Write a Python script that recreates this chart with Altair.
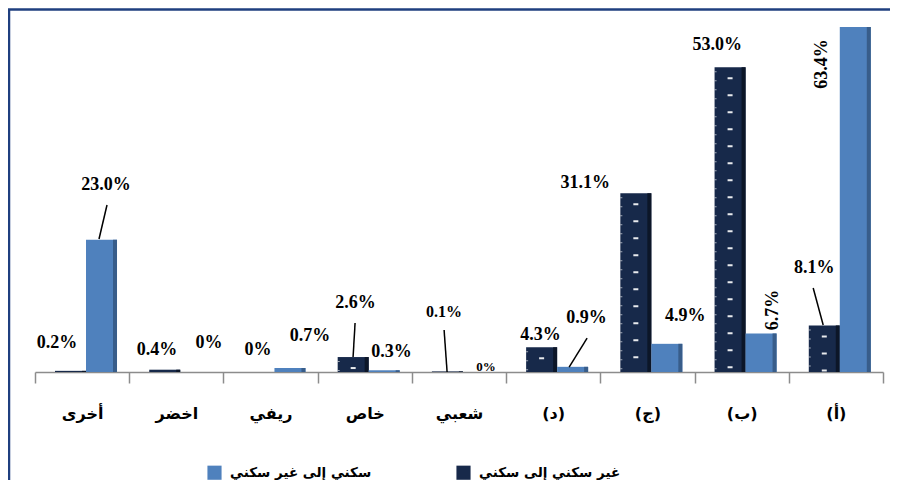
import altair as alt
import pandas as pd

# ---------------- data ----------------
categories = ["(أ)", "(ب)", "(ج)", "(د)", "شعبي", "خاص", "ريفي", "اخضر", "أخرى"]
series_dark = "غير سكني إلى سكني"
series_light = "سكني إلى غير سكني"
dark_values = [8.1, 53.0, 31.1, 4.3, 0.1, 2.6, 0.0, 0.4, 0.2]
light_values = [63.4, 6.7, 4.9, 0.9, 0.0, 0.3, 0.7, 0.0, 23.0]


def fmt(v):
    return "0%" if v == 0 else f"{v:.1f}%"


rows = []
for c, d, l in zip(categories, dark_values, light_values):
    rows.append({"cat": c, "series": series_dark, "value": d, "label": fmt(d)})
    rows.append({"cat": c, "series": series_light, "value": l, "label": fmt(l)})
df = pd.DataFrame(rows)

# ---------------- styles / layout ----------------
C_LIGHT, C_LIGHT_SHADE = "#4f81bd", "#385d8a"
C_DARK, C_DARK_SHADE = "#17294a", "#0c1628"
FRAME = "#1f3f7f"
AXIS_GREY = "#8c8c8c"
AR_FONT = "DejaVu Sans"
NUM_FONT = "Liberation Serif"
BAR_W = 31
OFF = {series_dark: -11.6, series_light: 19.4}   # bar centre relative to band centre
order_lr = categories[::-1]

# label offsets (dx, dy, angle, size) relative to band centre / bar top
LABEL_POS = {
    ("(أ)", series_dark): (-21.7, -57.4, 0, 18),
    ("(أ)", series_light): (-13.7, 56.6, 270, 18),
    ("(ب)", series_dark): (-24.5, -22.3, 0, 18),
    ("(ب)", series_light): (31, -23.5, 270, 18),
    ("(ج)", series_dark): (-62.3, -10.2, 0, 18),
    ("(ج)", series_light): (37.7, -27.8, 0, 18),
    ("(د)", series_dark): (-12.6, -12.3, 0, 18),
    ("(د)", series_light): (33.4, -48.8, 0, 18),
    ("شعبي", series_dark): (-14.9, -59.4, 0, 16),
    ("شعبي", series_light): (27.1, -5, 0, 13),
    ("خاص", series_dark): (-9.2, -54, 0, 18),
    ("خاص", series_light): (26.8, -18.3, 0, 18),
    ("ريفي", series_dark): (-12.5, -22, 0, 18),
    ("ريفي", series_light): (39.5, -32, 0, 18),
    ("اخضر", series_dark): (-19.3, -19.7, 0, 18),
    ("اخضر", series_light): (32.7, -29, 0, 18),
    ("أخرى", series_dark): (-25.1, -27.85, 0, 18),
    ("أخرى", series_light): (23.9, -54.75, 0, 18),
}
# leader lines (x_top, y_top, x_bottom, y_bottom) relative to band centre / bar top
LEADERS = {
    ("(أ)", series_dark): (-22.7, -37.4, -12.7, -0.4),
    ("(د)", series_light): (33.9, -28.8, 15.9, 0.2),
    ("شعبي", series_dark): (-14.9, -41.4, -11.9, 0.6),
    ("خاص", series_dark): (-9.7, -34, -11.7, 0),
    ("أخرى", series_light): (24.9, -34.75, 16.9, -0.75),
}

x_enc = alt.X(
    "cat:N",
    sort=order_lr,
    scale=alt.Scale(paddingInner=0, paddingOuter=0),
    axis=alt.Axis(
        title=None, labelAngle=0, tickBand="extent", domainColor=AXIS_GREY,
        tickColor=AXIS_GREY, tickSize=11, domainWidth=1.5, tickWidth=1.5,
        labelFont=AR_FONT, labelFontSize=16, labelFontWeight="bold",
        labelColor="black", labelPadding=22,
    ),
)
y_scale = alt.Scale(domain=[0, 60], nice=False, zero=True)
y_enc = alt.Y("value:Q", scale=y_scale, axis=None)
color_enc = alt.Color(
    "series:N",
    scale=alt.Scale(domain=[series_light, series_dark], range=[C_LIGHT, C_DARK]),
    legend=alt.Legend(
        title=None, orient="none", direction="horizontal", legendX=172, legendY=438,
        symbolType="square", symbolSize=200, symbolStrokeWidth=0,
        labelFont=AR_FONT, labelFontSize=13.5, labelFontWeight="bold",
        labelColor="black", columnPadding=84, labelOffset=8, labelLimit=300,
    ),
)

base = alt.Chart(df)
layers = []
for s, shade in [(series_dark, C_DARK_SHADE), (series_light, C_LIGHT_SHADE)]:
    sub = base.transform_filter(alt.datum.series == s)
    layers.append(
        sub.mark_bar(width=BAR_W, xOffset=OFF[s], clip=True).encode(
            x=x_enc, y=y_enc, y2=alt.datum(0), color=color_enc
        )
    )
    layers.append(
        sub.mark_rule(strokeWidth=4, color=shade, xOffset=OFF[s] + 13.5, clip=True).encode(
            x=alt.X("cat:N", sort=order_lr), y=y_enc, y2=alt.datum(0)
        )
    )

dark_sub = base.transform_filter(alt.datum.series == series_dark)
layers.append(
    dark_sub.mark_rule(strokeWidth=5, color="white", strokeDash=[2, 15], strokeDashOffset=-10,
                       xOffset=OFF[series_dark], clip=True, opacity=0.9).encode(
        x=alt.X("cat:N", sort=order_lr), y=y_enc, y2=alt.datum(0)
    )
)
layers.append(
    dark_sub.mark_rule(strokeWidth=2, color="white", strokeDash=[1, 8], strokeDashOffset=-4,
                       xOffset=OFF[series_dark] - 14.5, clip=True, opacity=0.6).encode(
        x=alt.X("cat:N", sort=order_lr), y=y_enc, y2=alt.datum(0)
    )
)

for (c, s), (dx, dy, ang, size) in LABEL_POS.items():
    sub = base.transform_filter((alt.datum.cat == c) & (alt.datum.series == s))
    layers.append(
        sub.mark_text(xOffset=dx, yOffset=dy, angle=ang, align="center", baseline="middle",
                      font=NUM_FONT, fontSize=size, fontWeight="bold", color="black").encode(
            x=alt.X("cat:N", sort=order_lr), y=y_enc, text="label:N"
        )
    )

for (c, s), (x1, y1, x2, y2) in LEADERS.items():
    sub = base.transform_filter((alt.datum.cat == c) & (alt.datum.series == s))
    layers.append(
        sub.mark_rule(xOffset=x1, yOffset=y1, x2Offset=x2, y2Offset=y2,
                      color="black", strokeWidth=1.5).encode(
            x=alt.X("cat:N", sort=order_lr), x2=alt.X2("cat:N"),
            y=y_enc, y2=alt.Y2("value:Q")
        )
    )

frame_df = pd.DataFrame({"k": [0]})
layers.append(
    alt.Chart(frame_df).mark_rule(color=FRAME, strokeWidth=2.5).encode(
        x=alt.value(-26), y=alt.value(-18), y2=alt.value(480)
    )
)
layers.append(
    alt.Chart(frame_df).mark_rule(color=FRAME, strokeWidth=2.5).encode(
        x=alt.value(-27), x2=alt.value(900), y=alt.value(-17.5)
    )
)

chart = (
    alt.layer(*layers)
    .properties(
        width=848, height=345,
        autosize=alt.AutoSizeParams(type="none"),
        padding={"left": 27, "top": 19, "right": 7, "bottom": 108},
    )
    .configure_view(stroke=None)
)

chart.save("out.html", embed_options={"renderer": "svg", "actions": False})
